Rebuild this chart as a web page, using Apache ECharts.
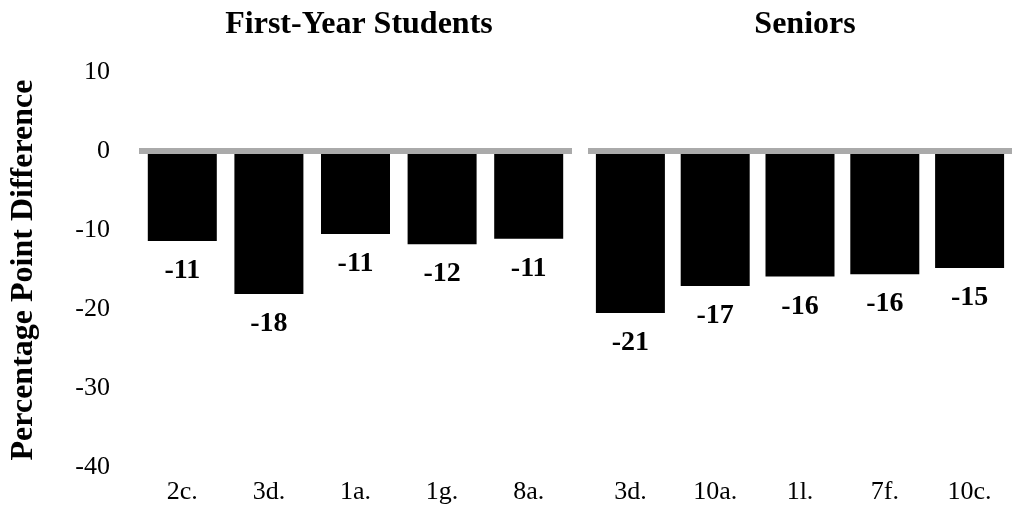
<!DOCTYPE html>
<html>
<head>
<meta charset="utf-8">
<script src="https://cdn.jsdelivr.net/npm/echarts@6/dist/echarts.min.js"></script>
<style>
html,body{margin:0;padding:0;background:#fff;}
#chart{width:1019px;height:508px;}
</style>
</head>
<body>
<div id="chart"></div>
<script>
// ---- data ----
var groupTitles = ['First-Year Students', 'Seniors'];
var firstYearCategories = ['2c.', '3d.', '1a.', '1g.', '8a.'];
var firstYearValues = [-11.4, -18.1, -10.5, -11.8, -11.1];
var firstYearLabels = ['-11', '-18', '-11', '-12', '-11'];
var seniorCategories = ['3d.', '10a.', '1l.', '7f.', '10c.'];
var seniorValues = [-20.5, -17.1, -15.9, -15.6, -14.8];
var seniorLabels = ['-21', '-17', '-16', '-16', '-15'];
var yTicks = { min: -40, max: 10, interval: 10 };
var yAxisTitle = 'Percentage Point Difference';

// ---- chart ----
var FONT = '"Liberation Serif", "Times New Roman", serif';
var chart = echarts.init(document.getElementById('chart'), null, { renderer: 'canvas' });

function zeroLine() {
  return {
    silent: true,
    symbol: 'none',
    label: { show: false },
    lineStyle: { color: '#aaaaaa', width: 6, type: 'solid' },
    data: [{ yAxis: 0 }]
  };
}

function barSeries(idx, values, labels) {
  return {
    type: 'bar',
    xAxisIndex: idx,
    yAxisIndex: idx,
    data: values,
    barWidth: 69,
    itemStyle: { color: '#000000' },
    label: {
      show: true,
      position: 'bottom',
      distance: 16,
      fontFamily: FONT,
      fontWeight: 'bold',
      fontSize: 28,
      color: '#000',
      formatter: function (p) { return labels[p.dataIndex]; }
    },
    markLine: zeroLine(),
    animation: false
  };
}

var catAxisCommon = {
  type: 'category',
  position: 'bottom',
  axisLine: { show: false, onZero: false },
  axisTick: { show: false },
  axisLabel: { fontFamily: FONT, fontSize: 26, color: '#000', margin: 12 },
  splitLine: { show: false }
};

var option = {
  backgroundColor: '#ffffff',
  animation: false,
  title: [
    { text: groupTitles[0], left: 354, top: 4, textAlign: 'center',
      textStyle: { fontFamily: FONT, fontWeight: 'bold', fontSize: 32, color: '#000' } },
    { text: groupTitles[1], left: 800, top: 4, textAlign: 'center',
      textStyle: { fontFamily: FONT, fontWeight: 'bold', fontSize: 32, color: '#000' } }
  ],
  graphic: [{
    type: 'text',
    x: 24, y: 270,
    rotation: Math.PI / 2,
    style: {
      text: yAxisTitle,
      fontFamily: FONT, fontWeight: 'bold', fontSize: 32, fill: '#000',
      textAlign: 'center', textVerticalAlign: 'middle'
    }
  }],
  grid: [
    { left: 139, top: 72, width: 433, height: 395 },
    { left: 588, top: 72, width: 424, height: 395 }
  ],
  xAxis: [
    Object.assign({ gridIndex: 0, data: firstYearCategories }, catAxisCommon),
    Object.assign({ gridIndex: 1, data: seniorCategories }, catAxisCommon)
  ],
  yAxis: [
    {
      gridIndex: 0, type: 'value', min: yTicks.min, max: yTicks.max, interval: yTicks.interval,
      axisLine: { show: false }, axisTick: { show: false }, splitLine: { show: false },
      axisLabel: { fontFamily: FONT, fontSize: 26, color: '#000', margin: 29 }
    },
    {
      gridIndex: 1, type: 'value', min: yTicks.min, max: yTicks.max, interval: yTicks.interval,
      axisLine: { show: false }, axisTick: { show: false }, splitLine: { show: false },
      axisLabel: { show: false }
    }
  ],
  series: [
    barSeries(0, firstYearValues, firstYearLabels),
    barSeries(1, seniorValues, seniorLabels)
  ]
};
chart.setOption(option);
</script>
</body>
</html>
